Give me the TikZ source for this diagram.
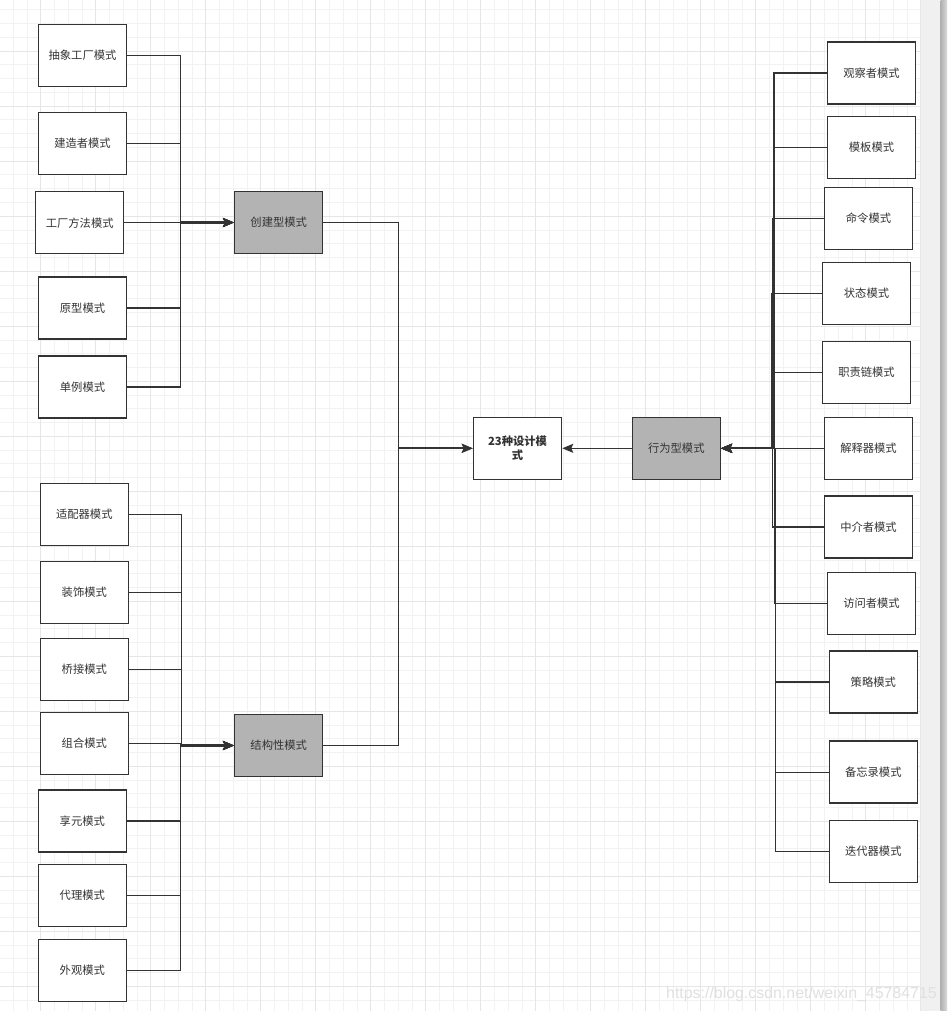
\documentclass[tikz,border=0pt]{standalone}
\usepackage{fontspec}
\newfontfamily\cjk{Noto Sans CJK SC}
\newfontfamily\wmfont{Liberation Sans}
\usetikzlibrary{arrows.meta}
\definecolor{ink}{HTML}{333333}
\definecolor{catgray}{HTML}{B3B3B3}
\definecolor{gridminor}{HTML}{F2F2F2}
\definecolor{gridmajor}{HTML}{E6E6E6}
\definecolor{stripgray}{HTML}{F0F0F0}
\definecolor{wmgray}{HTML}{E0E0E0}
\begin{document}
\begin{tikzpicture}[x=1pt,y=-1pt,
  box/.style={draw=ink, line width=1.5pt, fill=white, minimum width=88pt, minimum height=62pt,
    inner sep=0pt, align=center, font=\cjk\fontsize{11.3}{14.3}\selectfont, text=ink},
  catbox/.style={box, fill=catgray},
  wire/.style={draw=ink, line width=1.4pt},
  arr/.style={wire, -{Stealth[length=11pt,width=9pt,inset=2pt]}},
  trunk/.style={draw=ink, line width=2.2pt}
]
\useasboundingbox (0,0) rectangle (947,1011);
\fill[white] (0,0) rectangle (947,1011);
% grid
\foreach \k in {0,...,67} {
  \draw[gridminor, line width=0.8pt] ({-0.55+13.75*\k},0) -- ({-0.55+13.75*\k},1011);
}
\foreach \k in {0,...,73} {
  \draw[gridminor, line width=0.8pt] (0,{-3.85+13.75*\k}) -- (920.7,{-3.85+13.75*\k});
}
\foreach \k in {0,...,16} {
  \draw[gridmajor, line width=1pt] ({40.7+55*\k},0) -- ({40.7+55*\k},1011);
}
\foreach \k in {-1,...,17} {
  \draw[gridmajor, line width=1pt] (0,{51.15+55*\k}) -- (920.7,{51.15+55*\k});
}
% right strip
\fill[stripgray] (921.2,0) rectangle (940.7,1011);
\shade[left color=gray!60, right color=gray!30] (940.7,0) rectangle (947,1011);

% creational group
\node[box] (abs)  at (82.5,55.5)  {抽象工厂模式};
\node[box] (bld)  at (82.5,143.3) {建造者模式};
\node[box] (fm)   at (79.7,222.7) {工厂方法模式};
\node[box] (pro)  at (82.5,308)   {原型模式};
\node[box] (sgl)  at (82.5,387)   {单例模式};
\node[catbox] (cre) at (278.7,222.5) {创建型模式};

% structural group
\node[box] (adp)  at (84.3,514.5) {适配器模式};
\node[box] (dec)  at (84.3,592.5) {装饰模式};
\node[box] (brg)  at (84.3,669.5) {桥接模式};
\node[box] (cmp)  at (84.3,743.5) {组合模式};
\node[box] (fly)  at (82.3,821)   {享元模式};
\node[box] (prx)  at (82.3,895.5) {代理模式};
\node[box] (fac)  at (82.3,970.5) {外观模式};
\node[catbox] (str) at (278.7,745.5) {结构性模式};

% centre
\node[box, font=\cjk\bfseries\fontsize{11.3}{14.3}\selectfont] (all) at (517.5,448.3) {23种设计模\\式};
\node[catbox] (beh) at (676.3,448.3) {行为型模式};

% behavioural group
\node[box] (obs)  at (871.5,73)    {观察者模式};
\node[box] (tpl)  at (871.5,147.5) {模板模式};
\node[box] (cmd)  at (868.5,218.5) {命令模式};
\node[box] (sta)  at (866.5,293.5) {状态模式};
\node[box] (chn)  at (866.5,372.5) {职责链模式};
\node[box] (itp)  at (868.5,448.3) {解释器模式};
\node[box] (med)  at (868.5,527)   {中介者模式};
\node[box] (vis)  at (871.5,603.3) {访问者模式};
\node[box] (stg)  at (873.3,682)   {策略模式};
\node[box] (mem)  at (873.3,772.2) {备忘录模式};
\node[box] (itr)  at (873.3,851.7) {迭代器模式};

% bus coordinates
\coordinate (cbus) at (180.3,0);
\coordinate (sbusA) at (181.7,0);
\coordinate (sbusB) at (180.3,0);
\coordinate (mbus) at (398.3,0);
\coordinate (rb1) at (774,0);
\coordinate (rb2) at (772.7,0);
\coordinate (rb3) at (771.2,0);
\coordinate (rb4) at (771.7,0);
\coordinate (rb5) at (772.5,0);
\coordinate (rb6) at (774.5,0);
\coordinate (rb7) at (775.7,0);

% creational connectors
\foreach \n in {abs,bld,fm,pro,sgl} {
  \draw[arr] (\n.east) -- (\n.east -| cbus) |- (cre.west);
}
\draw[trunk] (cre.west -| cbus) -- ([xshift=-8pt]cre.west);

% structural connectors
\foreach \n in {adp,dec,brg,cmp} {
  \draw[arr] (\n.east) -- (\n.east -| sbusA) |- (str.west);
}
\foreach \n in {fly,prx,fac} {
  \draw[arr] (\n.east) -- (\n.east -| sbusB) |- (str.west);
}
\draw[trunk] (str.west -| sbusB) -- ([xshift=-8pt]str.west);

% behavioural connectors
\draw[arr] (obs.west) -- (obs.west -| rb1) |- (beh.east);
\draw[arr] (tpl.west) -- (tpl.west -| rb1) |- (beh.east);
\draw[arr] (cmd.west) -- (cmd.west -| rb2) |- (beh.east);
\draw[arr] (sta.west) -- (sta.west -| rb3) |- (beh.east);
\draw[arr] (chn.west) -- (chn.west -| rb4) |- (beh.east);
\draw[arr] (itp.west) -- (beh.east);
\draw[arr] (med.west) -- (med.west -| rb5) |- (beh.east);
\draw[arr] (vis.west) -- (vis.west -| rb6) |- (beh.east);
\draw[arr] (stg.west) -- (stg.west -| rb7) |- (beh.east);
\draw[arr] (mem.west) -- (mem.west -| rb7) |- (beh.east);
\draw[arr] (itr.west) -- (itr.west -| rb7) |- (beh.east);
\draw[trunk] (beh.east -| rb3) -- ([xshift=8pt]beh.east);

% to centre
\draw[arr] (cre.east) -- (cre.east -| mbus) |- (all.west);
\draw[arr] (str.east) -- (str.east -| mbus) |- (all.west);
\draw[trunk] (all.west -| mbus) -- ([xshift=-8pt]all.west);
\draw[arr] (beh.west) -- (all.east);

% watermark
\node[anchor=base west, inner sep=0pt, text=wmgray, font=\wmfont\fontsize{15.9}{18}\selectfont] (wm) at (666,998) {https://blog.csdn.net/weixin\_45784715};
\end{tikzpicture}
\end{document}
